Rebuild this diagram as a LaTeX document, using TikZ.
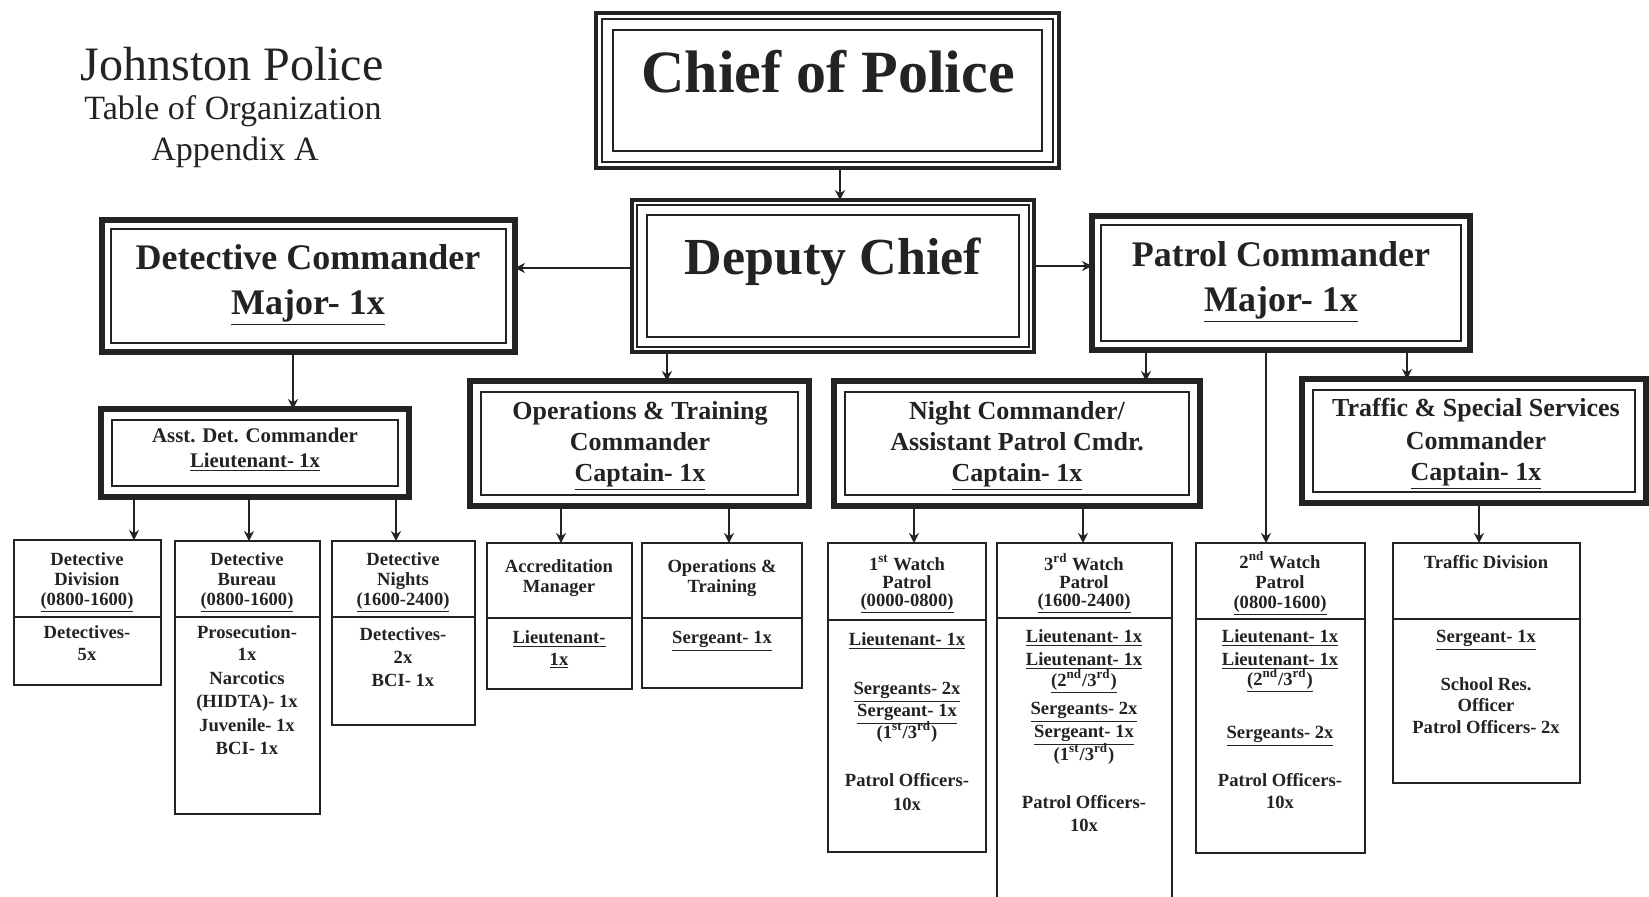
\documentclass[tikz,border=0pt]{standalone}
\usepackage{fontspec}
\setmainfont{Liberation Serif}
\usetikzlibrary{arrows.meta,calc,fit}
\definecolor{ink}{RGB}{35,35,35}
\begin{document}
\begin{tikzpicture}[x=0.5pt,y=-0.5pt,
  cell/.style={draw=ink, line width=1.2pt, inner sep=0pt, outer sep=0pt},
  frameA/.style={draw=ink, line width=3pt, inner sep=0pt, outer sep=0pt},
  frameTop/.style={draw=ink, line width=2.2pt, inner sep=0pt, outer sep=0pt},
  thinline/.style={draw=ink, line width=0.9pt},
  midline/.style={draw=ink, line width=1.2pt},
  divider/.style={draw=ink, line width=1.2pt},
  lbl/.style={anchor=base, inner sep=0pt, text=ink},
  small/.style={lbl, font=\bfseries\fontsize{9.3}{11}\selectfont},
  mid/.style={lbl, font=\bfseries\fontsize{13}{15}\selectfont},
  asst/.style={lbl, font=\bfseries\fontsize{10.4}{12}\selectfont},
  major/.style={lbl, font=\bfseries\fontsize{18}{21}\selectfont},
  arr/.style={draw=ink, line width=1.2pt, -{Stealth[length=5pt,width=5pt]}},
  plain/.style={draw=ink, line width=1.2pt}
]
\useasboundingbox (0,0) rectangle (1649,896);
\fill[white] (0,0) rectangle (1649,896);

% ---------- title ----------
\node[lbl, font=\fontsize{24}{28}\selectfont] (t1) at (232,80) {Johnston Police};
\node[lbl, font=\fontsize{17}{20}\selectfont] (t2) at (233,119) {Table of Organization};
\node[lbl, font=\fontsize{17}{20}\selectfont] (t3) at (235,160) {Appendix A};

% ---------- chief ----------
\node[frameTop, fit={(596,13) (1059,168)}] (chief) {};
\draw[thinline] ($(chief.north west)+(6,6)$) rectangle ($(chief.south east)+(-6,-6)$);
\draw[midline] ($(chief.north west)+(17,17)$) rectangle ($(chief.south east)+(-17,-17)$);
\node[lbl, font=\bfseries\fontsize{30}{34}\selectfont] (chieft) at (828,92) {Chief of Police};

% ---------- deputy ----------
\node[frameTop, fit={(632,200) (1034,352)}] (deputy) {};
\draw[thinline] ($(deputy.north west)+(5,5)$) rectangle ($(deputy.south east)+(-5,-5)$);
\draw[midline] ($(deputy.north west)+(15,15)$) rectangle ($(deputy.south east)+(-15,-15)$);
\node[lbl, font=\bfseries\fontsize{26}{30}\selectfont] (deputyt) at (833,274) {Deputy Chief};

% ---------- majors ----------
\node[frameA, fit={(102,220) (515,352)}] (detc) {};
\draw[thinline] ($(detc.north west)+(9,9)$) rectangle ($(detc.south east)+(-9,-9)$);
\node[major] (detc1) at (308,269) {Detective Commander};
\node[major] (detc2) at (308,314) {\underline{Major- 1x}};

\node[frameA, fit={(1092,216) (1470,350)}] (patrol) {};
\draw[thinline] ($(patrol.north west)+(9,9)$) rectangle ($(patrol.south east)+(-9,-9)$);
\node[major] (patrol1) at (1281,266) {Patrol Commander};
\node[major] (patrol2) at (1281,311) {\underline{Major- 1x}};

% ---------- row 2 ----------
\node[frameA, fit={(101,409) (409,497)}] (ad) {};
\draw[thinline] ($(ad.north west)+(11,11)$) rectangle ($(ad.south east)+(-11,-11)$);
\node[asst] (ad1) at (255,442) {Asst. Det. Commander};
\node[asst] (ad2) at (255,467) {\underline{Lieutenant- 1x}};

\node[frameA, fit={(470,381) (809,506)}] (oc) {};
\draw[thinline] ($(oc.north west)+(11,11)$) rectangle ($(oc.south east)+(-11,-11)$);
\node[mid] (oc1) at (640,419) {Operations \& Training};
\node[mid] (oc2) at (640,450) {Commander};
\node[mid] (oc3) at (640,481) {\underline{Captain- 1x}};

\node[frameA, fit={(834,381) (1200,506)}] (nc) {};
\draw[thinline] ($(nc.north west)+(11,11)$) rectangle ($(nc.south east)+(-11,-11)$);
\node[mid] (nc1) at (1017,419) {Night Commander/};
\node[mid] (nc2) at (1017,450) {Assistant Patrol Cmdr.};
\node[mid] (nc3) at (1017,481) {\underline{Captain- 1x}};

\node[frameA, fit={(1302,379) (1646,503)}] (ts) {};
\draw[thinline] ($(ts.north west)+(11,11)$) rectangle ($(ts.south east)+(-11,-11)$);
\node[mid] (ts1) at (1476,416) {Traffic \& Special Services};
\node[mid] (ts2) at (1476,449) {Commander};
\node[mid] (ts3) at (1476,480) {\underline{Captain- 1x}};

% ---------- row 3 ----------
% Detective Division
\node[cell, fit={(14,540) (161,685)}] (dd) {};
\draw[divider] (dd.west |- 0,617) -- (dd.east |- 0,617);
\node[small] (dd1) at (87,565) {Detective};
\node[small] (dd2) at (87,585) {Division};
\node[small] (dd3) at (87,605) {\underline{(0800-1600)}};
\node[small] (dd4) at (87,638) {Detectives-};
\node[small] (dd5) at (87,660) {5x};

% Detective Bureau
\node[cell, fit={(175,541) (320,814)}] (db) {};
\draw[divider] (db.west |- 0,617) -- (db.east |- 0,617);
\node[small] (db1) at (247,565) {Detective};
\node[small] (db2) at (247,585) {Bureau};
\node[small] (db3) at (247,605) {\underline{(0800-1600)}};
\node[small] (db4) at (247,638) {Prosecution-};
\node[small] (db5) at (247,660) {1x};
\node[small] (db6) at (247,684) {Narcotics};
\node[small] (db7) at (247,707) {(HIDTA)- 1x};
\node[small] (db8) at (247,731) {Juvenile- 1x};
\node[small] (db9) at (247,754) {BCI- 1x};

% Detective Nights
\node[cell, fit={(332,541) (475,725)}] (dn) {};
\draw[divider] (dn.west |- 0,617) -- (dn.east |- 0,617);
\node[small] (dn1) at (403,565) {Detective};
\node[small] (dn2) at (403,585) {Nights};
\node[small] (dn3) at (403,605) {\underline{(1600-2400)}};
\node[small] (dn4) at (403,640) {Detectives-};
\node[small] (dn5) at (403,663) {2x};
\node[small] (dn6) at (403,686) {BCI- 1x};

% Accreditation Manager
\node[cell, fit={(487,543) (632,689)}] (am) {};
\draw[divider] (am.west |- 0,618) -- (am.east |- 0,618);
\node[small] (am1) at (559,572) {Accreditation};
\node[small] (am2) at (559,592) {Manager};
\node[small] (am3) at (559,643) {\underline{Lieutenant-}};
\node[small] (am4) at (559,665) {\underline{1x}};

% Operations & Training
\node[cell, fit={(642,543) (802,688)}] (ot) {};
\draw[divider] (ot.west |- 0,618) -- (ot.east |- 0,618);
\node[small] (ot1) at (722,572) {Operations \&};
\node[small] (ot2) at (722,592) {Training};
\node[small] (ot3) at (722,643) {\underline{Sergeant- 1x}};

% 1st Watch
\node[cell, fit={(828,543) (986,852)}] (w1) {};
\draw[divider] (w1.west |- 0,620) -- (w1.east |- 0,620);
\node[small] (w1a) at (907,570) {1\textsuperscript{st} Watch};
\node[small] (w1b) at (907,588) {Patrol};
\node[small] (w1c) at (907,606) {\underline{(0000-0800)}};
\node[small] (w1d) at (907,645) {\underline{Lieutenant- 1x}};
\node[small] (w1e) at (907,694) {\underline{Sergeants- 2x}};
\node[small] (w1f) at (907,716) {\underline{Sergeant- 1x}};
\node[small] (w1g) at (907,738) {(1\textsuperscript{st}/3\textsuperscript{rd})};
\node[small] (w1h) at (907,786) {Patrol Officers-};
\node[small] (w1i) at (907,810) {10x};

% 3rd Watch
\node[cell, fit={(997,543) (1172,905)}] (w3) {};
\draw[divider] (w3.west |- 0,618) -- (w3.east |- 0,618);
\node[small] (w3a) at (1084,570) {3\textsuperscript{rd} Watch};
\node[small] (w3b) at (1084,588) {Patrol};
\node[small] (w3c) at (1084,606) {\underline{(1600-2400)}};
\node[small] (w3d) at (1084,642) {\underline{Lieutenant- 1x}};
\node[small] (w3e) at (1084,665) {\underline{Lieutenant- 1x}};
\node[small] (w3f) at (1084,686) {\underline{(2\textsuperscript{nd}/3\textsuperscript{rd})}};
\node[small] (w3g) at (1084,714) {\underline{Sergeants- 2x}};
\node[small] (w3h) at (1084,737) {\underline{Sergeant- 1x}};
\node[small] (w3i) at (1084,760) {(1\textsuperscript{st}/3\textsuperscript{rd})};
\node[small] (w3j) at (1084,808) {Patrol Officers-};
\node[small] (w3k) at (1084,831) {10x};

% 2nd Watch
\node[cell, fit={(1196,543) (1365,853)}] (w2) {};
\draw[divider] (w2.west |- 0,619) -- (w2.east |- 0,619);
\node[small] (w2a) at (1280,568) {2\textsuperscript{nd} Watch};
\node[small] (w2b) at (1280,588) {Patrol};
\node[small] (w2c) at (1280,608) {\underline{(0800-1600)}};
\node[small] (w2d) at (1280,642) {\underline{Lieutenant- 1x}};
\node[small] (w2e) at (1280,665) {\underline{Lieutenant- 1x}};
\node[small] (w2f) at (1280,685) {\underline{(2\textsuperscript{nd}/3\textsuperscript{rd})}};
\node[small] (w2g) at (1280,738) {\underline{Sergeants- 2x}};
\node[small] (w2h) at (1280,786) {Patrol Officers-};
\node[small] (w2i) at (1280,808) {10x};

% Traffic Division
\node[cell, fit={(1393,543) (1580,783)}] (td) {};
\draw[divider] (td.west |- 0,619) -- (td.east |- 0,619);
\node[small] (td1) at (1486,568) {Traffic Division};
\node[small] (td2) at (1486,642) {\underline{Sergeant- 1x}};
\node[small] (td3) at (1486,690) {School Res.};
\node[small] (td4) at (1486,711) {Officer};
\node[small] (td5) at (1486,733) {Patrol Officers- 2x};

% ---------- connectors ----------
\coordinate (xa) at (840,0);
\coordinate (ya) at (0,268);
\coordinate (yb) at (0,266);
\draw[arr] (chief.south -| xa) -- (deputy.north -| xa);
\draw[arr] (deputy.west |- ya) -- (detc.east |- ya);
\draw[arr] (deputy.east |- yb) -- (patrol.west |- yb);
\draw[arr] (deputy.south -| 667,0) -- (oc.north -| 667,0);
\draw[arr] (detc.south -| 293,0) -- (ad.north -| 293,0);
\draw[arr] (patrol.south -| 1146,0) -- (nc.north -| 1146,0);
\draw[arr] (patrol.south -| 1266,0) -- (w2.north -| 1266,0);
\draw[arr] (patrol.south -| 1407,0) -- (ts.north -| 1407,0);
\draw[arr] (ad.south -| 134,0) -- (dd.north -| 134,0);
\draw[arr] (ad.south -| 249,0) -- (db.north -| 249,0);
\draw[arr] (ad.south -| 396,0) -- (dn.north -| 396,0);
\draw[arr] (oc.south -| 561,0) -- (am.north -| 561,0);
\draw[arr] (oc.south -| 729,0) -- (ot.north -| 729,0);
\draw[arr] (nc.south -| 914,0) -- (w1.north -| 914,0);
\draw[arr] (nc.south -| 1083,0) -- (w3.north -| 1083,0);
\draw[arr] (ts.south -| 1479,0) -- (td.north -| 1479,0);
\end{tikzpicture}
\end{document}
